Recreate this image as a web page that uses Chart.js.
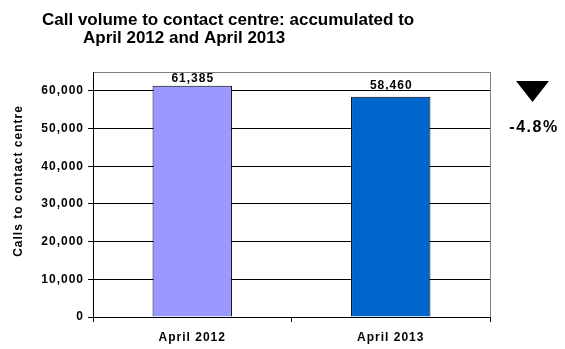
<!DOCTYPE html>
<html>
<head>
<meta charset="utf-8">
<script src="https://cdn.jsdelivr.net/npm/chart.js@4"></script>
<style>
html, body { margin: 0; padding: 0; background: #fff; }
#wrap { width: 565px; height: 349px; }
</style>
</head>
<body>
<div id="wrap"><canvas id="c"></canvas></div>
<script>
// data
const categories = ['April 2012', 'April 2013'];
const calls = [61385, 58460];
const barColours = ['#9999ff', '#0066cc'];
const titleLines = ['Call volume to contact centre: accumulated to', 'April 2012 and April 2013'];
const yTitle = 'Calls to contact centre';
const changeText = '-4.8%';
const yTicks = [0, 10000, 20000, 30000, 40000, 50000, 60000];
const yMax = 65000;

const FAMILY = '"Liberation Sans", Arial, sans-serif';
Chart.defaults.font.family = FAMILY;
Chart.defaults.color = '#000';

function fmt(v) {
	return Number(v).toLocaleString('en-US');
}

// extra bits excel drew around the plot: title, axis title, value labels, arrow
const extras = {
	id: 'extras',
	beforeDraw(chart) {
		chart.ctx.letterSpacing = '1px';
	},
	afterDraw(chart) {
		const ctx = chart.ctx;
		const area = chart.chartArea;
		ctx.save();

		// grey right edge of plot area
		ctx.strokeStyle = '#808080';
		ctx.lineWidth = 1;
		ctx.beginPath();
		ctx.moveTo(area.right + 0.5, area.top);
		ctx.lineTo(area.right + 0.5, area.bottom);
		ctx.stroke();

		// value labels over bars, kept inside the plot area like excel does
		ctx.fillStyle = '#000';
		ctx.font = 'bold 12px ' + FAMILY;
		ctx.letterSpacing = '1px';
		ctx.textAlign = 'center';
		ctx.textBaseline = 'alphabetic';
		chart.getDatasetMeta(0).data.forEach(function(bar, i) {
			const y = Math.max(bar.y - 8, area.top + 10);
			ctx.fillText(fmt(calls[i]), bar.x + 0.5, y);
		});

		// title
		ctx.letterSpacing = '0px';
		ctx.textAlign = 'left';
		ctx.font = 'bold 17px ' + FAMILY;
		ctx.fillText(titleLines[0], 42, 25);
		ctx.fillText(titleLines[1], 83, 43);

		// y axis title
		ctx.save();
		ctx.letterSpacing = '1px';
		ctx.font = 'bold 12px ' + FAMILY;
		ctx.translate(19, 181);
		ctx.rotate(-Math.PI / 2);
		ctx.textAlign = 'center';
		ctx.textBaseline = 'middle';
		ctx.fillText(yTitle, 0, 0);
		ctx.restore();

		// down arrow + change
		ctx.beginPath();
		ctx.moveTo(516, 81);
		ctx.lineTo(549, 81);
		ctx.lineTo(532.5, 102);
		ctx.closePath();
		ctx.fill();

		ctx.letterSpacing = '1.5px';
		ctx.font = 'bold 16px ' + FAMILY;
		ctx.textAlign = 'center';
		ctx.fillText(changeText, 534, 132);

		ctx.restore();
	}
};

new Chart(document.getElementById('c'), {
	type: 'bar',
	data: {
		labels: categories,
		datasets: [{
			data: calls,
			backgroundColor: barColours,
			borderColor: '#000',
			borderWidth: 1,
			barPercentage: 0.4,
			categoryPercentage: 1
		}]
	},
	options: {
		responsive: true,
		maintainAspectRatio: false,
		animation: false,
		layout: {
			padding: { left: 0, top: 72, right: 75, bottom: 0 }
		},
		plugins: {
			legend: { display: false },
			title: { display: false },
			tooltip: { enabled: false }
		},
		scales: {
			x: {
				afterFit: function(s) { s.height = 32; },
				grid: { drawOnChartArea: false, color: '#000', tickLength: 5 },
				border: { color: '#000' },
				ticks: {
					color: '#000',
					font: { size: 12, weight: 'bold' },
					padding: 8
				}
			},
			y: {
				min: 0,
				max: yMax,
				afterFit: function(s) { s.width = 93; },
				afterBuildTicks: function(s) {
					s.ticks = yTicks.concat([yMax]).map(function(v) { return { value: v }; });
				},
				grid: {
					color: function(c) { return c.tick && c.tick.value === yMax ? '#808080' : '#000'; },
					tickColor: function(c) { return c.tick && c.tick.value === yMax ? 'rgba(0,0,0,0)' : '#000'; },
					tickLength: 5
				},
				border: { color: '#000' },
				ticks: {
					color: '#000',
					font: { size: 12, weight: 'bold' },
					padding: 4,
					callback: function(v) { return v === yMax ? '' : fmt(v); }
				}
			}
		}
	},
	plugins: [extras]
});
</script>
</body>
</html>
